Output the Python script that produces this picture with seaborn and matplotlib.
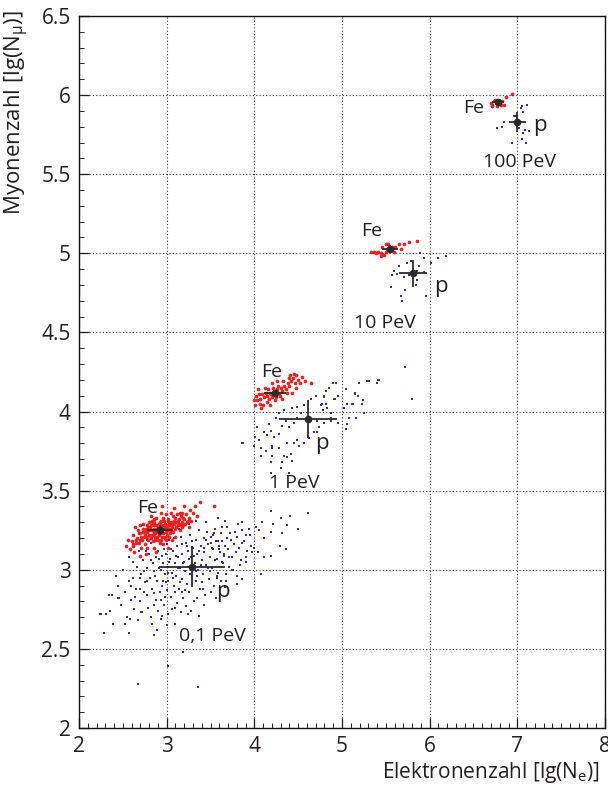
import numpy as np
import pandas as pd
import matplotlib
matplotlib.use("Agg")
import matplotlib.pyplot as plt
import seaborn as sns
from matplotlib.ticker import MultipleLocator

# ---------------- data ----------------
energies = ["0,1 PeV", "1 PeV", "10 PeV", "100 PeV"]

# mean values (lg Ne, lg Nmu) and spreads
fe_mean_x = [2.92, 4.235, 5.546, 6.78]
fe_mean_y = [3.25, 4.114, 5.03, 5.955]
fe_err_x = [0.14, 0.125, 0.09, 0.07]
fe_err_y = [0.03, 0.025, 0.02, 0.015]
p_mean_x = [3.29, 4.61, 5.81, 7.0]
p_mean_y = [3.02, 3.95, 4.874, 5.83]
p_err_x = [0.38, 0.33, 0.155, 0.10]
p_err_y = [0.13, 0.12, 0.085, 0.065]

# label positions
fe_label_x = [2.78, 4.20, 5.34, 6.50]
fe_label_y = [3.39, 4.25, 5.14, 5.92]
p_label_x = [3.64, 4.77, 6.13, 7.26]
p_label_y = [2.86, 3.80, 4.79, 5.81]
e_label_x = [3.52, 4.45, 5.49, 7.02]
e_label_y = [2.58, 3.55, 4.56, 5.58]

# shower clouds: iron (red)
fe_x = [2.78, 2.80, 2.81, 2.83, 2.84, 2.85, 2.86, 2.87, 2.88, 2.89, 2.90, 2.91, 2.92, 2.93, 2.94,
        2.95, 2.96, 2.97, 2.98, 2.99, 3.00, 3.01, 3.02, 3.03, 3.04, 3.05, 3.06, 2.79, 2.82, 2.86,
        2.90, 2.94, 2.98, 3.02, 3.07, 2.76, 2.84, 2.92, 3.00, 3.08, 2.88, 2.96, 2.80,
        2.66, 2.68, 2.70, 2.71, 2.72, 2.73, 2.74, 2.75, 2.77, 2.78, 2.70, 2.67, 3.09, 3.10, 3.11,
        3.12, 3.13, 3.14, 3.15, 3.16, 3.17, 3.18, 3.19, 3.20, 3.22, 3.23, 3.25, 3.10, 3.06, 2.96,
        2.86, 2.82, 2.99, 3.05, 2.93,
        2.58, 2.60, 2.62, 2.63, 2.64, 2.69, 2.56, 2.76, 2.88, 3.27, 3.28, 3.30, 3.32, 3.26, 3.35,
        3.20, 3.08, 2.95, 3.02, 2.54, 3.38, 3.54,
        2.83, 2.87, 2.91, 2.95, 2.99, 3.03, 2.81, 2.85, 2.89, 2.93, 2.97, 3.01, 3.05, 2.75, 2.73,
        3.14, 3.18, 2.65, 2.61, 3.24,
        4.15, 4.18, 4.20, 4.22, 4.24, 4.26, 4.28, 4.30, 4.21, 4.17, 4.25, 4.32, 4.13, 4.19, 4.27,
        4.23, 4.11, 4.09, 4.34, 4.36, 4.29, 4.14, 4.07, 4.05, 4.03, 4.06, 4.10, 4.02, 4.12, 4.16,
        4.38, 4.40, 4.42, 4.37, 4.44, 4.46, 4.48, 4.50, 4.41, 4.33, 4.26, 4.52, 4.54, 4.47, 4.01,
        4.04, 4.08, 4.18, 4.31, 4.39, 4.45, 4.58, 4.65, 4.43, 4.20, 4.00,
        5.36, 5.33, 5.41, 5.46, 5.50, 5.51, 5.57, 5.61, 5.65, 5.71, 5.77, 5.85, 5.44, 5.45, 5.50,
        5.56, 5.59, 5.39, 5.53, 5.67, 5.48,
        6.70, 6.71, 6.75, 6.81, 6.83, 6.87, 6.77, 6.73, 6.85, 6.94, 6.79, 6.71]
fe_y = [3.24, 3.22, 3.27, 3.25, 3.29, 3.23, 3.26, 3.21, 3.28, 3.24, 3.27, 3.22, 3.30, 3.25, 3.23,
        3.28, 3.26, 3.21, 3.29, 3.24, 3.27, 3.31, 3.25, 3.28, 3.23, 3.30, 3.27, 3.19, 3.20, 3.30,
        3.19, 3.31, 3.20, 3.32, 3.24, 3.26, 3.18, 3.17, 3.22, 3.29, 3.33, 3.33, 3.30,
        3.20, 3.17, 3.23, 3.14, 3.19, 3.26, 3.21, 3.16, 3.28, 3.14, 3.28, 3.25, 3.33, 3.26, 3.30,
        3.35, 3.28, 3.32, 3.25, 3.34, 3.30, 3.36, 3.28, 3.32, 3.35, 3.30, 3.33, 3.21, 3.19, 3.16,
        3.14, 3.34, 3.35, 3.36, 3.36,
        3.13, 3.18, 3.22, 3.11, 3.27, 3.09, 3.19, 3.10, 3.11, 3.38, 3.31, 3.36, 3.40, 3.27, 3.34,
        3.40, 3.39, 3.40, 3.14, 3.15, 3.43, 3.40,
        3.22, 3.23, 3.25, 3.24, 3.26, 3.29, 3.26, 3.28, 3.21, 3.27, 3.28, 3.26, 3.25, 3.22, 3.24,
        3.29, 3.27, 3.19, 3.16, 3.31,
        4.10, 4.12, 4.09, 4.13, 4.11, 4.14, 4.12, 4.15, 4.15, 4.08, 4.09, 4.13, 4.12, 4.11, 4.16,
        4.07, 4.09, 4.11, 4.16, 4.14, 4.10, 4.06, 4.08, 4.11, 4.07, 4.05, 4.04, 4.10, 4.15, 4.14,
        4.18, 4.16, 4.19, 4.12, 4.21, 4.18, 4.23, 4.20, 4.23, 4.19, 4.19, 4.18, 4.22, 4.15, 4.04,
        4.14, 4.02, 4.04, 4.08, 4.21, 4.24, 4.19, 4.18, 4.12, 4.18, 4.07,
        5.01, 5.01, 5.01, 5.04, 5.06, 5.03, 5.04, 5.04, 5.06, 5.06, 5.07, 5.08, 5.00, 4.98, 5.01,
        5.03, 5.01, 5.00, 5.06, 5.03, 4.99,
        5.95, 5.94, 5.97, 5.94, 5.96, 5.99, 5.93, 5.96, 5.94, 6.01, 5.96, 5.93]
# further iron points in the dense 0.1 PeV core (x, y)
fe_core_extra = [(2.80, 3.25), (2.82, 3.28), (2.84, 3.22), (2.86, 3.24), (2.88, 3.26), (2.90, 3.24),
                 (2.92, 3.27), (2.94, 3.26), (2.96, 3.23), (2.98, 3.27), (3.00, 3.25), (3.02, 3.28),
                 (3.04, 3.26), (3.06, 3.29), (3.08, 3.31), (2.77, 3.21), (2.74, 3.24), (2.71, 3.21),
                 (2.69, 3.19), (2.65, 3.17), (2.62, 3.15), (2.91, 3.29), (2.87, 3.19), (2.95, 3.21),
                 (3.03, 3.21), (3.11, 3.27), (3.13, 3.31), (3.16, 3.28), (3.19, 3.33), (3.21, 3.29),
                 (2.85, 3.32), (2.97, 3.31), (2.79, 3.27), (2.83, 3.31), (2.99, 3.19), (3.15, 3.36),
                 (2.73, 3.29), (2.68, 3.23), (2.93, 3.19), (3.07, 3.34)]

# shower clouds: protons (blue)
p_x = [2.62, 2.66, 2.69, 2.71, 2.73, 2.75, 2.77, 2.78, 2.80, 2.81, 2.83, 2.84, 2.86, 2.87, 2.88,
       2.89, 2.91, 2.92, 2.93, 2.94, 2.95, 2.96, 2.97, 2.98, 2.99, 3.00, 3.01, 3.02, 3.03, 3.04,
       3.05, 3.06, 3.07, 3.08, 3.09, 3.10, 3.11, 3.12, 3.13, 3.14, 3.15, 3.16, 3.17, 3.18, 3.19,
       3.20, 3.21, 3.22, 3.23, 3.24, 3.25, 3.26, 3.27, 3.28, 3.29, 3.30, 3.31, 3.32, 3.33, 3.34,
       3.35, 3.36, 3.37, 3.38, 3.39, 3.40, 3.41, 3.42, 3.43, 3.44, 3.45, 3.46, 3.47, 3.48, 3.49,
       3.50, 3.52, 3.53, 3.54, 3.55, 3.57, 3.58, 3.59, 3.61, 3.62, 3.64, 3.66, 3.67, 3.69, 3.71,
       3.73, 3.75, 3.78, 3.82, 3.84, 3.88, 3.92,
       2.45, 2.48, 2.50, 2.53, 2.55, 2.57, 2.59, 2.61, 2.63, 2.65, 2.67, 2.70, 2.72, 2.74, 2.76,
       2.79, 2.82, 2.85, 2.90, 2.94, 2.98, 3.02, 3.06, 3.12, 3.16, 3.22, 3.28, 3.35, 3.42, 3.50,
       3.56, 3.62, 3.68, 3.40, 3.18, 2.96, 2.88, 3.00, 3.08, 2.82, 2.92, 2.42, 2.38, 2.35, 2.57,
       2.68, 2.78, 3.14, 3.25, 3.34, 3.45, 3.58, 3.66,
       2.67, 3.36, 3.01, 3.19, 2.25, 2.31, 2.29, 2.39, 2.57, 2.52, 2.58, 2.83, 2.86, 2.89, 3.00,
       3.10, 3.24, 3.37, 2.95, 2.71, 2.46, 2.34, 2.24, 2.44,
       4.19, 4.41, 4.61, 4.30, 4.09, 4.21, 4.37, 4.50, 4.31, 4.19, 4.05, 4.11, 4.36, 4.29, 4.19,
       4.11, 4.04, 4.08, 3.86, 3.81, 3.94, 3.90, 3.86, 3.96, 3.97, 3.90, 3.85, 3.79, 3.77, 3.72,
       3.69, 3.63, 3.54, 3.56, 3.52, 3.60, 3.65, 3.71, 3.63, 3.74, 3.80, 3.86, 3.80, 3.68, 3.57,
       3.87, 4.08, 4.14, 4.19, 4.22, 4.28, 4.31, 4.36, 4.39, 4.45, 4.49, 4.53, 4.28, 4.34, 4.43,
       4.49, 4.57, 4.65, 4.70, 4.79, 4.76, 4.82, 4.71, 4.79, 4.74, 4.68, 4.20, 4.28, 4.37, 4.45,
       4.51, 4.42, 4.34, 4.20, 4.13, 4.31, 4.19, 4.43, 4.17, 4.25, 4.11, 4.03, 4.01, 4.05, 4.57,
       4.62, 4.08,
       4.93, 4.91, 4.96, 5.06, 5.15, 5.19, 5.28, 5.41, 5.18, 5.24, 5.11, 5.08, 5.04, 4.88, 4.83,
       4.77, 4.72, 4.74, 4.49, 4.20, 4.30, 4.39, 4.19, 4.37, 3.86, 4.00, 5.72, 5.80, 5.42, 5.40,
       5.31, 5.15, 5.23, 5.12, 5.04, 4.90, 4.85, 4.79, 4.92, 4.82, 4.78, 4.87, 5.02, 5.16, 5.25,
       4.96, 5.06, 4.88,
       5.79, 5.74, 5.89, 5.93, 6.01, 6.10, 6.19, 5.88, 5.85, 5.93, 5.65, 5.63, 5.57, 5.71, 5.85,
       5.84, 5.56, 5.72, 5.67, 5.69, 5.96, 5.59, 5.76,
       7.04, 7.11, 6.99, 6.96, 7.07, 6.85, 6.83, 7.09, 7.13, 7.02, 6.77, 6.94, 7.05, 7.10, 7.07,
       7.05]
p_y = [2.95, 3.02, 2.88, 2.97, 3.06, 2.92, 2.84, 3.01, 3.10, 2.95, 2.88, 3.04, 2.99, 3.13, 2.81,
       2.93, 3.07, 2.86, 3.00, 3.16, 2.90, 3.04, 2.78, 2.97, 3.10, 2.87, 3.02, 2.93, 3.19, 3.07,
       2.83, 2.98, 3.12, 2.90, 3.04, 2.76, 2.96, 3.15, 3.08, 2.88, 3.01, 3.21, 2.94, 3.10, 2.82,
       3.05, 2.99, 3.17, 2.91, 3.12, 3.02, 2.86, 3.22, 3.08, 2.96, 3.14, 2.80, 3.04, 3.19, 2.93,
       3.10, 3.00, 3.25, 2.88, 3.15, 3.06, 2.97, 3.20, 3.11, 2.84, 3.03, 3.24, 3.16, 2.94, 3.08,
       3.21, 3.01, 3.13, 2.90, 3.26, 3.07, 3.18, 2.98, 3.11, 3.23, 3.04, 3.15, 2.89, 3.27, 3.02,
       3.19, 3.08, 3.24, 3.14, 3.03, 3.18, 3.12,
       2.90, 2.78, 3.00, 2.86, 2.70, 2.93, 2.81, 3.05, 2.75, 2.88, 2.68, 2.80, 2.73, 2.99, 3.12,
       2.76, 2.70, 2.78, 2.74, 2.69, 2.83, 2.72, 2.75, 2.79, 2.73, 2.77, 2.74, 2.82, 2.78, 2.86,
       2.82, 2.93, 2.97, 2.92, 2.86, 2.93, 3.08, 3.16, 3.20, 3.17, 3.22, 2.96, 2.84, 2.74, 3.08,
       3.12, 3.19, 3.26, 3.29, 3.31, 3.30, 3.33, 3.31,
       2.28, 2.26, 2.39, 2.48, 2.72, 2.72, 2.60, 2.66, 2.60, 2.66, 2.69, 2.66, 2.59, 2.62, 2.65,
       2.66, 2.72, 2.71, 2.71, 2.73, 2.82, 2.84, 2.72, 2.82,
       3.37, 3.34, 3.36, 3.33, 3.30, 3.29, 3.28, 3.26, 3.23, 3.24, 3.25, 3.20, 3.13, 3.15, 3.09,
       3.08, 3.11, 2.97, 3.30, 3.29, 3.26, 3.22, 3.17, 3.15, 3.11, 3.08, 3.06, 3.11, 3.16, 3.23,
       3.20, 3.27, 3.23, 3.18, 3.14, 3.13, 3.10, 3.08, 3.05, 3.00, 2.96, 2.94, 2.91, 2.93, 2.96,
       3.80, 3.77, 3.85, 3.88, 3.84, 3.86, 3.91, 3.94, 3.90, 3.93, 3.96, 3.99, 3.99, 4.01, 4.02,
       4.03, 4.04, 4.08, 4.10, 4.09, 4.04, 4.13, 3.94, 3.93, 3.90, 3.87, 3.78, 3.77, 3.80, 3.80,
       3.78, 3.73, 3.72, 3.72, 3.75, 3.68, 3.68, 3.69, 3.92, 3.96, 3.87, 3.90, 3.84, 3.82, 3.80,
       3.83, 3.72,
       4.18, 4.08, 4.10, 4.05, 4.12, 4.18, 4.19, 4.20, 4.10, 4.07, 4.05, 3.96, 3.89, 3.96, 4.02,
       4.05, 3.87, 3.75, 3.82, 3.77, 3.64, 3.61, 3.61, 3.71, 3.80, 3.78, 4.28, 4.08, 4.20, 4.18,
       4.19, 4.11, 4.05, 4.05, 4.14, 4.18, 4.15, 4.10, 4.08, 4.05, 4.01, 3.99, 4.02, 3.96, 3.99,
       3.93, 3.92, 3.94,
       4.95, 4.94, 5.00, 4.97, 4.94, 4.97, 4.98, 4.92, 4.89, 4.88, 4.92, 4.87, 4.86, 4.85, 4.83,
       4.80, 4.79, 4.77, 4.73, 4.70, 4.73, 4.89, 4.86,
       5.92, 5.94, 5.87, 5.87, 5.89, 5.83, 5.80, 5.78, 5.77, 5.79, 5.79, 5.70, 5.72, 5.70, 5.76,
       5.93]
# further proton points in the dense 0.1 PeV cloud (x, y)
p_core_extra = [(2.87, 2.96), (2.91, 3.01), (2.95, 3.09), (2.99, 2.92), (3.03, 3.05), (3.07, 2.95),
                (3.11, 3.09), (3.15, 2.92), (3.19, 3.04), (3.23, 3.15), (3.27, 2.97), (3.31, 3.09),
                (3.35, 2.96), (3.39, 3.03), (3.43, 3.14), (3.47, 3.01), (3.51, 3.17), (3.55, 3.06),
                (3.60, 3.15), (3.65, 3.09), (2.93, 2.81), (2.97, 3.13), (3.01, 2.98), (3.05, 3.13),
                (3.09, 2.86), (3.13, 3.01), (3.17, 3.16), (3.21, 2.87), (3.25, 3.07), (3.29, 3.18),
                (3.33, 2.99), (3.37, 3.12), (3.41, 2.88), (3.45, 3.19), (3.49, 2.99), (3.53, 3.22),
                (3.57, 2.95), (3.63, 3.18), (3.70, 3.13), (3.76, 3.00), (2.74, 2.86), (2.78, 2.93),
                (2.82, 3.06), (2.86, 2.85), (2.90, 3.12), (2.69, 2.95), (2.64, 2.83), (2.59, 2.90),
                (3.80, 3.21), (3.86, 3.25), (3.90, 3.05), (3.95, 3.22), (4.00, 3.14), (4.02, 3.27)]

# ---------------- figure ----------------
sns.set_style("ticks")
plt.rcParams['font.family'] = ['Open Sans', 'DejaVu Sans']
plt.rcParams['mathtext.fontset'] = 'custom'
plt.rcParams['mathtext.rm'] = 'Open Sans'
plt.rcParams['mathtext.it'] = 'Open Sans:italic'

fig = plt.figure(figsize=(6.08, 7.87), dpi=100)
ax = fig.add_axes([0.130, 0.0750, 0.865, 0.9047])

blue = "#2e2e9e"
red = "#f01e1e"
text_col = "#231f20"

df_p = pd.concat([pd.DataFrame({"x": p_x, "y": p_y}),
                  pd.DataFrame(p_core_extra, columns=["x", "y"])], ignore_index=True)
df_fe = pd.concat([pd.DataFrame({"x": fe_x, "y": fe_y}),
                   pd.DataFrame(fe_core_extra, columns=["x", "y"])], ignore_index=True)
sns.scatterplot(data=df_p, x="x", y="y", color=blue, s=3.5, marker="s",
                linewidth=0, ax=ax, zorder=3, legend=False)
sns.scatterplot(data=df_fe, x="x", y="y", color=red, s=7, marker="o",
                linewidth=0, ax=ax, zorder=4, legend=False)

ax.errorbar(p_mean_x, p_mean_y, xerr=p_err_x, yerr=p_err_y, fmt="o", color="#2a2a2a",
            ms=4.5, elinewidth=1.3, capsize=0, zorder=6)
ax.errorbar(fe_mean_x, fe_mean_y, xerr=fe_err_x, yerr=fe_err_y, fmt="o", color="#2a2a2a",
            ms=4.5, elinewidth=1.3, capsize=0, zorder=6)

for i in range(len(energies)):
    ax.text(fe_label_x[i], fe_label_y[i], "Fe", fontsize=14, color=text_col,
            ha="center", va="center", zorder=7)
    ax.text(p_label_x[i], p_label_y[i], "p", fontsize=16, color=text_col,
            ha="center", va="center", zorder=7)
    ax.text(e_label_x[i], e_label_y[i], energies[i], fontsize=14, color=text_col,
            ha="center", va="center", zorder=7)

ax.set_xlim(2, 8)
ax.set_ylim(2, 6.5)
ax.xaxis.set_major_locator(MultipleLocator(1))
ax.xaxis.set_minor_locator(MultipleLocator(0.1))
ax.yaxis.set_major_locator(MultipleLocator(0.5))
ax.yaxis.set_minor_locator(MultipleLocator(0.1))
ax.set_yticks([2, 2.5, 3, 3.5, 4, 4.5, 5, 5.5, 6, 6.5])
ax.set_yticklabels(["2", "2.5", "3", "3.5", "4", "4.5", "5", "5.5", "6", "6.5"])

ax.tick_params(which="major", direction="in", length=7, width=0.9, labelsize=15,
               pad=6, colors=text_col)
ax.tick_params(which="minor", direction="in", length=3.5, width=0.7)
ax.grid(True, which="major", color="#333333", linestyle=(0, (1, 2)), linewidth=0.8)
for s in ax.spines.values():
    s.set_linewidth(1.0)
    s.set_color("#111111")

ax.set_xlabel(r"Elektronenzahl [lg(N$_\mathregular{e}$)]", fontsize=15, color=text_col,
              loc="right")
ax.set_ylabel(r"Myonenzahl [lg(N$_\mathregular{μ}$)]", fontsize=16, color=text_col,
              loc="top")
ax.xaxis.set_label_coords(0.99, -0.045)
ax.yaxis.set_label_coords(-0.092, 1.008)

fig.savefig("out.png", dpi=100)
